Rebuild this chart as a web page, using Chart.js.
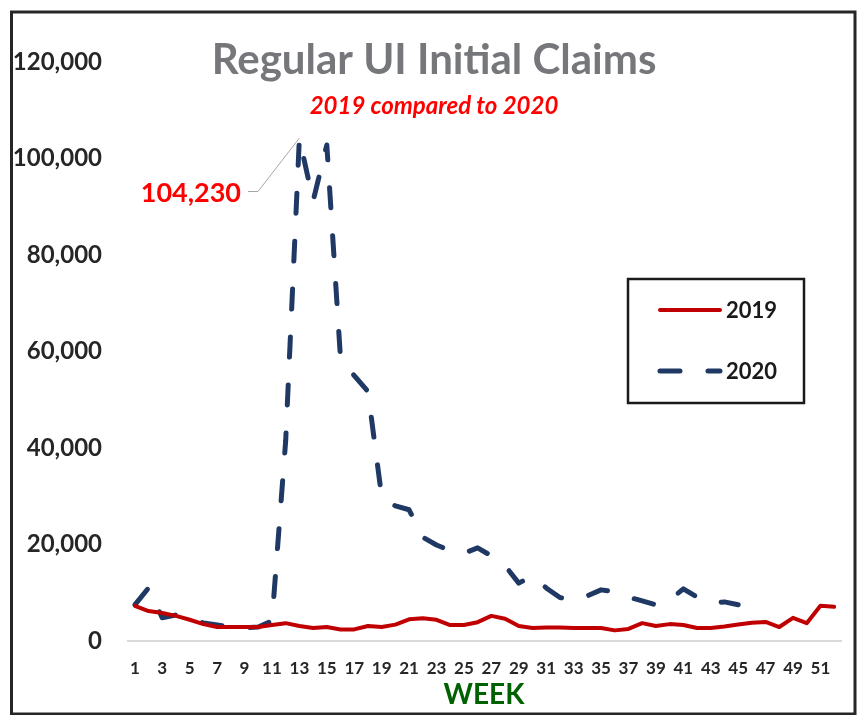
<!DOCTYPE html>
<html>
<head>
<meta charset="utf-8">
<script src="https://cdn.jsdelivr.net/npm/chart.js@4.4.1/dist/chart.umd.min.js"></script>
<style>
  body { margin: 0; background: #fff; }
  #wrap { width: 858px; height: 715px; }
</style>
</head>
<body>
<div id="wrap"><canvas id="myChart" width="858" height="715"></canvas></div>
<script>
// week numbers on the x axis
var weeks = ["1", "2", "3", "4", "5", "6", "7", "8", "9", "10", "11", "12", "13",
  "14", "15", "16", "17", "18", "19", "20", "21", "22", "23", "24", "25", "26",
  "27", "28", "29", "30", "31", "32", "33", "34", "35", "36", "37", "38", "39",
  "40", "41", "42", "43", "44", "45", "46", "47", "48", "49", "50", "51", "52"];

// regular UI initial claims per week
var claims2019 = [7300, 6200, 5800, 5200, 4400, 3500, 2900, 2900, 2900, 2900,
  3300, 3700, 3100, 2700, 2900, 2400, 2400, 3100, 2900, 3400,
  4500, 4700, 4400, 3300, 3300, 3900, 5200, 4600, 3100, 2700,
  2800, 2800, 2700, 2700, 2700, 2200, 2500, 3700, 3100, 3500,
  3300, 2700, 2700, 3000, 3400, 3800, 3950, 2900, 4800, 3700,
  7300, 7100];

var claims2020 = [7500, 11000, 4800, 5400, 4600, 3750, 3300, 2900, 2700, 2900,
  4150, 41500, 104230, 91200, 102800, 58500, 55000, 51700, 29900, 28000,
  27200, 21500, 19900, 18700, 18200, 19300, 17650, 15600, 12000, 13500,
  11000, 9000, 8500, 9350, 10600, 10200, 9100, 8300, 7500, 8500,
  10800, 9100, 7900, 8100, 7500, null, null, null, null, null,
  null, null];

var yMax = 120000;
var yStep = 20000;

var red = "#c00000";
var navy = "#203864";
var ink = "#262626";

var barChart = document.getElementById("myChart").getContext("2d");

// title, callout, legend, axis name and frame are drawn by hand
var extras = {
  id: "extras",
  afterDraw: function(chart) {
    var ctx = chart.ctx;
    var xs = chart.scales.x;
    var ys = chart.scales.y;
    ctx.save();

    ctx.textAlign = "center";
    ctx.textBaseline = "alphabetic";
    ctx.fillStyle = "#76777b";
    ctx.font = "bold 42px Lato";
    ctx.fillText("Regular UI Initial Claims", 434, 74);

    ctx.fillStyle = "#ff0000";
    ctx.font = "italic bold 24px Lato";
    ctx.fillText("2019 compared to 2020", 434, 114);

    // peak callout
    var peak = Math.max.apply(null, claims2020);
    var peakIdx = claims2020.indexOf(peak);
    var px = xs.getPixelForValue(peakIdx);
    var py = ys.getPixelForValue(peak);
    ctx.strokeStyle = "#a6a6a6";
    ctx.lineWidth = 1;
    ctx.beginPath();
    ctx.moveTo(248, 191.5);
    ctx.lineTo(258, 191.5);
    ctx.lineTo(px, py);
    ctx.stroke();
    ctx.fillStyle = "#ff0000";
    ctx.font = "bold 27px Lato";
    ctx.textAlign = "right";
    ctx.textBaseline = "middle";
    ctx.fillText(peak.toLocaleString("en-US"), 241, 193);

    // legend
    ctx.strokeStyle = "#1a1a1a";
    ctx.lineWidth = 2.5;
    ctx.strokeRect(628, 279, 176, 124);
    ctx.lineCap = "round";
    ctx.strokeStyle = red;
    ctx.lineWidth = 4;
    ctx.beginPath();
    ctx.moveTo(660, 310);
    ctx.lineTo(720, 310);
    ctx.stroke();
    ctx.strokeStyle = navy;
    ctx.lineWidth = 5;
    ctx.setLineDash([20, 28]);
    ctx.beginPath();
    ctx.moveTo(660, 371);
    ctx.lineTo(720, 371);
    ctx.stroke();
    ctx.setLineDash([]);
    ctx.fillStyle = "#1a1a1a";
    ctx.font = "bold 22px Lato";
    ctx.textAlign = "left";
    ctx.fillText("2019", 726, 311);
    ctx.fillText("2020", 726, 372);

    // axis name
    ctx.fillStyle = "#006100";
    ctx.font = "bold 28px Lato";
    ctx.textAlign = "center";
    ctx.textBaseline = "alphabetic";
    ctx.fillText("WEEK", 484, 704);

    // outer frame
    ctx.strokeStyle = ink;
    ctx.lineWidth = 3;
    ctx.strokeRect(11.5, 12, 843.5, 702);
    ctx.restore();
  }
};

var chart = new Chart(barChart, {
  type: "line",
  data: {
    labels: weeks,
    datasets: [
      {
        label: "2019",
        data: claims2019,
        borderColor: red,
        backgroundColor: red,
        borderWidth: 4,
        pointRadius: 0,
        tension: 0,
        borderJoinStyle: "round",
        borderCapStyle: "round"
      },
      {
        label: "2020",
        data: claims2020,
        borderColor: navy,
        backgroundColor: navy,
        borderWidth: 5,
        borderDash: [20, 28],
        borderCapStyle: "round",
        borderJoinStyle: "round",
        pointRadius: 0,
        tension: 0
      }
    ]
  },
  plugins: [extras],
  options: {
    responsive: false,
    animation: false,
    devicePixelRatio: 1,
    layout: { padding: { left: 10, right: 17, top: 62, bottom: 0 } },
    plugins: {
      legend: { display: false },
      title: { display: false },
      tooltip: { enabled: false }
    },
    scales: {
      x: {
        type: "category",
        offset: true,
        grid: { display: false, drawTicks: false },
        border: { display: true, color: "#d9d9d9", width: 2 },
        ticks: {
          autoSkip: false,
          maxRotation: 0,
          padding: 17,
          color: ink,
          font: { family: "Lato", weight: "bold", size: 17 },
          callback: function(value, index) {
            return index % 2 === 0 ? weeks[index] : "";
          }
        },
        afterFit: function(scale) { scale.height = 74; }
      },
      y: {
        min: 0,
        max: yMax,
        grid: { display: false, drawTicks: false },
        border: { display: false },
        ticks: {
          stepSize: yStep,
          padding: 26,
          color: ink,
          font: { family: "Lato", weight: "bold", size: 24 },
          callback: function(value) { return value.toLocaleString("en-US"); }
        },
        afterFit: function(scale) { scale.width = 118; }
      }
    }
  }
});
</script>
</body>
</html>
